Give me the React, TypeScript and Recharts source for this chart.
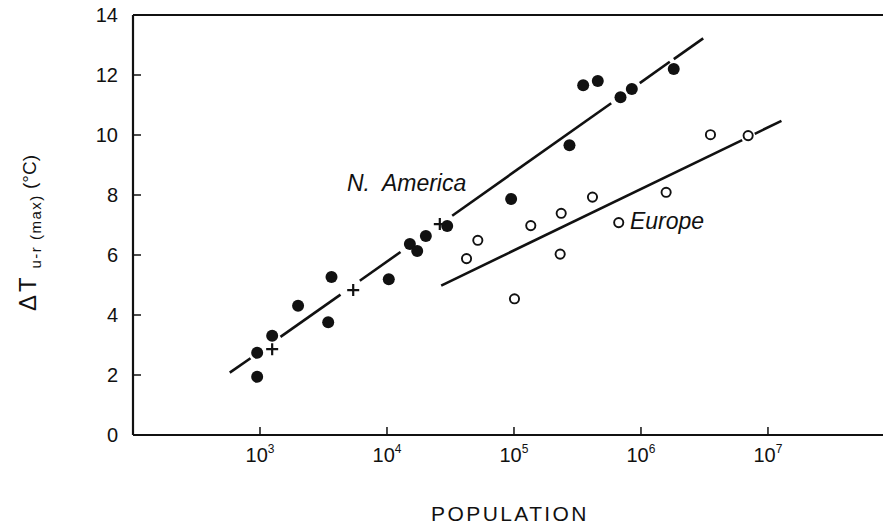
import { ComposedChart, XAxis, YAxis, Scatter, Line, ReferenceLine, ReferenceDot } from 'recharts'

// population (x) and urban-rural max temperature difference (y)
const naPop = [950, 950, 1247, 1995, 3656, 3444, 10330, 15140, 17300, 20230, 29800, 95000, 273500, 350700, 457000, 690000, 847000, 1811000]
const naDT = [2.74, 1.94, 3.31, 4.31, 5.27, 3.76, 5.19, 6.37, 6.13, 6.63, 6.97, 7.87, 9.66, 11.66, 11.8, 11.26, 11.53, 12.2]

const crossPop = [1247, 5420, 26060]
const crossDT = [2.86, 4.83, 7.03]

const euPop = [42300, 51900, 100900, 135600, 235400, 231000, 415000, 668000, 1578000, 3525000, 6980000]
const euDT = [5.88, 6.49, 4.54, 6.98, 7.39, 6.03, 7.93, 7.08, 8.09, 10.01, 9.98]

// fitted lines, drawn as broken segments (start/end pairs)
const naFitPop = [578, 842, 1450, 4305, 6107, 12777, 32620, 582800, 978600, 1686000, 1813000, 3090000]
const naFitDT = [2.08, 2.56, 3.27, 4.68, 5.14, 6.10, 7.31, 11.06, 11.73, 12.44, 12.53, 13.22]
const euFitPop = [26720, 6265000, 7873000, 12770000]
const euFitDT = [4.98, 9.83, 10.04, 10.47]

const xTicks = [1e3, 1e4, 1e5, 1e6, 1e7]
const yTicks = [0, 2, 4, 6, 8, 10, 12, 14]

const INK = '#111'
const FONT = '"Liberation Sans", Arial, sans-serif'

const zip = (xs: number[], ys: number[]) => xs.map((x, i) => ({ x, y: ys[i] }))

const pairs = (xs: number[], ys: number[]) => {
  const out: { x: number; y: number }[][] = []
  for (let i = 0; i + 1 < xs.length; i += 2) {
    out.push([{ x: xs[i], y: ys[i] }, { x: xs[i + 1], y: ys[i + 1] }])
  }
  return out
}

const naData = zip(naPop, naDT)
const crossData = zip(crossPop, crossDT)
const euData = zip(euPop, euDT)
const naSegs = pairs(naFitPop, naFitDT)
const euSegs = pairs(euFitPop, euFitDT)

const FilledDot = ({ cx, cy }: any) => <circle cx={cx} cy={cy} r={6} fill={INK} />
const OpenDot = ({ cx, cy }: any) => (
  <circle cx={cx} cy={cy} r={4.6} fill="#fff" stroke={INK} strokeWidth={1.9} />
)
const Cross = ({ cx, cy }: any) => (
  <path d={`M${cx - 6},${cy}H${cx + 6}M${cx},${cy - 6}V${cy + 6}`} stroke={INK} strokeWidth={2.2} />
)

const XTick = ({ x, y, payload }: any) => {
  const exp = Math.round(Math.log10(payload.value))
  return (
    <g>
      <line x1={x} x2={x} y1={y} y2={y - 8} stroke={INK} strokeWidth={1.5} />
      <text x={x} y={y + 27} textAnchor="middle" fontFamily={FONT} fontSize={20} fill={INK}>
        10<tspan dy={-9} fontSize={12}>{exp}</tspan>
      </text>
    </g>
  )
}

const YTick = ({ x, y, payload }: any) => (
  <g>
    {payload.value !== 0 && payload.value !== 14 && (
      <line x1={x} x2={x + 8} y1={y} y2={y} stroke={INK} strokeWidth={1.5} />
    )}
    <text x={x - 15} y={y + 7} textAnchor="end" fontFamily={FONT} fontSize={20} fill={INK}>
      {payload.value}
    </text>
  </g>
)

const XTitle = () => (
  <text x={510} y={521} textAnchor="middle" fontFamily={FONT} fontSize={21} letterSpacing={2.4} fill={INK}>
    POPULATION
  </text>
)

const YTitle = () => (
  <text transform="translate(36, 233) rotate(-90)" textAnchor="middle" fontFamily={FONT} fill={INK}>
    <tspan fontSize={24} letterSpacing={3}>ΔT</tspan>
    <tspan fontSize={15} dy={5} letterSpacing={1.5}> u-r (max)</tspan>
    <tspan fontSize={19} dy={-5}> (°C)</tspan>
  </text>
)

const SeriesLabel = (text: string) => ({ cx, cy }: any) => (
  <text
    x={cx}
    y={cy}
    fontFamily={FONT}
    fontStyle="italic"
    fontSize={23}
    style={{ whiteSpace: 'pre' }}
    fill={INK}
  >
    {text}
  </text>
)

export default function App() {
  return (
    <div style={{ position: 'absolute', left: 0, top: 0, width: 883, height: 526, background: '#fff' }}>
      <ComposedChart width={883} height={526} margin={{ top: 15, right: 0, bottom: 11, left: 53 }}>
        <XAxis
          dataKey="x"
          type="number"
          scale="log"
          domain={[100, 80500000]}
          allowDataOverflow
          ticks={xTicks}
          tickSize={0}
          tickMargin={0}
          tick={<XTick />}
          height={80}
          axisLine={{ stroke: INK, strokeWidth: 2 }}
          label={{ content: <XTitle /> }}
        />
        <YAxis
          dataKey="y"
          type="number"
          domain={[0, 14]}
          ticks={yTicks}
          tickSize={0}
          tickMargin={0}
          tick={<YTick />}
          width={80}
          axisLine={{ stroke: INK, strokeWidth: 2.2 }}
          label={{ content: <YTitle /> }}
        />
        <ReferenceLine y={14} stroke={INK} strokeWidth={2} />
        {naSegs.map((seg, i) => (
          <Line
            key={`na${i}`}
            data={seg}
            dataKey="y"
            type="linear"
            stroke={INK}
            strokeWidth={2.6}
            dot={false}
            activeDot={false}
            isAnimationActive={false}
          />
        ))}
        {euSegs.map((seg, i) => (
          <Line
            key={`eu${i}`}
            data={seg}
            dataKey="y"
            type="linear"
            stroke={INK}
            strokeWidth={2.6}
            dot={false}
            activeDot={false}
            isAnimationActive={false}
          />
        ))}
        <Scatter data={naData} dataKey="y" shape={<FilledDot />} isAnimationActive={false} />
        <Scatter data={crossData} dataKey="y" shape={<Cross />} isAnimationActive={false} />
        <Scatter data={euData} dataKey="y" shape={<OpenDot />} isAnimationActive={false} />
        <ReferenceDot x={4840} y={8.13} r={0} shape={SeriesLabel('N.  America')} />
        <ReferenceDot x={818000} y={6.87} r={0} shape={SeriesLabel('Europe')} />
      </ComposedChart>
    </div>
  )
}
